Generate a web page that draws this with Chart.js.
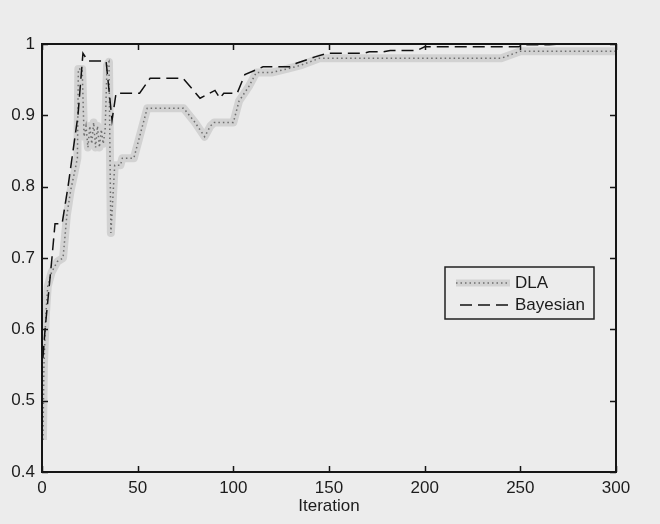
<!DOCTYPE html>
<html>
<head>
<meta charset="utf-8">
<script src="https://cdn.jsdelivr.net/npm/chart.js@4.4.0/dist/chart.umd.min.js"></script>
<style>
  html, body { margin: 0; padding: 0; background: #ececec; }
  canvas { display: block; }
</style>
</head>
<body>
<canvas id="myChart" width="660" height="524"></canvas>
<script>
// DLA curve
var dlaIter = [0.5, 1, 2, 3, 5, 8, 11, 12, 13, 15, 17, 18.5, 19, 21, 22, 23, 24, 25, 26, 27, 28, 29, 30, 31,
               32, 33, 34, 35, 36,
               38, 41, 42, 48, 51, 55, 74, 80, 85, 88, 90, 100, 103, 108, 112, 120, 128, 135, 145, 150,
               240, 245, 250, 300];
var dlaVal  = [0.445, 0.55, 0.62, 0.66, 0.68, 0.695, 0.70, 0.73, 0.76, 0.795, 0.82, 0.84, 0.965, 0.965, 0.87,
               0.885, 0.855, 0.885, 0.86, 0.89, 0.855, 0.885, 0.855, 0.88,
               0.86, 0.88, 0.97, 0.975, 0.735,
               0.83, 0.83, 0.84, 0.84, 0.87, 0.91, 0.91, 0.89, 0.87, 0.885, 0.89, 0.89, 0.92, 0.94, 0.96,
               0.96, 0.965, 0.97, 0.98, 0.98, 0.98, 0.985, 0.99, 0.99];
// Bayesian curve
var bayIter = [0.5, 1.6, 5.2, 6.8, 10.5, 13.6, 18.8, 21.4, 24, 33.5, 36.6, 38.7, 51, 56.5, 73.7, 82.6, 90.4,
               93, 95, 102, 106, 115.5, 129.6, 133, 138.5, 142.7, 149, 168, 171, 178, 182, 196, 200,
               249, 252, 265, 270, 300];
var bayVal  = [0.56, 0.6, 0.7, 0.748, 0.748, 0.8, 0.9, 0.987, 0.976, 0.976, 0.893, 0.931, 0.931, 0.952,
               0.952, 0.924, 0.935, 0.924, 0.931, 0.931, 0.957, 0.968, 0.968, 0.973, 0.978, 0.982, 0.987,
               0.987, 0.989, 0.989, 0.991, 0.991, 0.996, 0.996, 0.999, 0.999, 1.0, 1.0];

var seriesNames = ['DLA', 'Bayesian'];
var xTicks = [0, 50, 100, 150, 200, 250, 300];
var yTicks = [0.4, 0.5, 0.6, 0.7, 0.8, 0.9, 1];
var xTitle = 'Iteration';

var FONT = { family: '"Liberation Sans", Arial, Helvetica, sans-serif', size: 17 };
var INK = '#1c1c1c';

function pts(xs, ys) {
    var out = [];
    for (var i = 0; i < xs.length; i++) out.push({ x: xs[i], y: ys[i] });
    return out;
}

// matlab style box, inward ticks and legend
var matlabBox = {
    id: 'matlabBox',
    afterDatasetsDraw: function (chart) {
        var ctx = chart.ctx;
        var a = chart.chartArea;
        var sx = chart.scales.x, sy = chart.scales.y;
        ctx.save();
        ctx.strokeStyle = '#151515';
        ctx.lineWidth = 2;
        ctx.strokeRect(a.left, a.top, a.right - a.left, a.bottom - a.top);
        ctx.lineWidth = 1.5;
        ctx.beginPath();
        xTicks.forEach(function (v) {
            var px = Math.round(sx.getPixelForValue(v)) + 0.5;
            ctx.moveTo(px, a.bottom); ctx.lineTo(px, a.bottom - 6);
            ctx.moveTo(px, a.top); ctx.lineTo(px, a.top + 6);
        });
        yTicks.forEach(function (v) {
            var py = Math.round(sy.getPixelForValue(v)) + 0.5;
            ctx.moveTo(a.left, py); ctx.lineTo(a.left + 6, py);
            ctx.moveTo(a.right, py); ctx.lineTo(a.right - 6, py);
        });
        ctx.stroke();

        // legend box
        var lx = 445, ly = 267, lw = 149, lh = 52;
        ctx.fillStyle = '#ececec';
        ctx.fillRect(lx, ly, lw, lh);
        ctx.strokeStyle = '#202020';
        ctx.lineWidth = 1.5;
        ctx.strokeRect(lx, ly, lw, lh);
        var rows = [ly + 16, ly + 38];
        // DLA sample
        ctx.lineWidth = 7; ctx.strokeStyle = '#d2d2d2';
        ctx.beginPath(); ctx.moveTo(456, rows[0]); ctx.lineTo(510, rows[0]); ctx.stroke();
        ctx.lineWidth = 1.5; ctx.strokeStyle = '#6e6e6e'; ctx.setLineDash([1.5, 3]);
        ctx.beginPath(); ctx.moveTo(456, rows[0]); ctx.lineTo(510, rows[0]); ctx.stroke();
        // Bayesian sample
        ctx.strokeStyle = '#111'; ctx.lineWidth = 1.5; ctx.setLineDash([12, 6]);
        ctx.beginPath(); ctx.moveTo(460, rows[1]); ctx.lineTo(512, rows[1]); ctx.stroke();
        ctx.setLineDash([]);
        ctx.fillStyle = INK;
        ctx.font = FONT.size + 'px ' + FONT.family;
        ctx.textBaseline = 'middle';
        ctx.textAlign = 'left';
        ctx.fillText(seriesNames[0], 515, rows[0]);
        ctx.fillText(seriesNames[1], 515, rows[1]);
        ctx.restore();
    }
};

var ctx = document.getElementById('myChart').getContext('2d');
var chart = new Chart(ctx, {
    type: 'line',
    data: {
        datasets: [{
            label: seriesNames[1],
            data: pts(bayIter, bayVal),
            borderColor: '#111',
            borderWidth: 1.5,
            borderDash: [12, 6],
            pointRadius: 0,
            fill: false,
            order: 0
        }, {
            label: seriesNames[0],
            data: pts(dlaIter, dlaVal),
            borderColor: '#6e6e6e',
            borderWidth: 1.5,
            borderDash: [1.5, 3],
            pointRadius: 0,
            fill: false,
            order: 1
        }, {
            label: seriesNames[0] + ' halo',
            data: pts(dlaIter, dlaVal),
            borderColor: '#d2d2d2',
            borderWidth: 8,
            borderJoinStyle: 'round',
            pointRadius: 0,
            fill: false,
            order: 2
        }]
    },
    options: {
        responsive: false,
        animation: false,
        layout: { padding: { top: 44, right: 44, left: 0, bottom: 0 } },
        plugins: { legend: { display: false }, tooltip: { enabled: false } },
        scales: {
            x: {
                type: 'linear',
                min: 0, max: 300,
                afterBuildTicks: function (s) { s.ticks = xTicks.map(function (v) { return { value: v }; }); },
                afterFit: function (s) { s.height = 52; },
                grid: { display: false, drawTicks: false },
                border: { display: false },
                ticks: { color: INK, font: FONT, padding: 6, maxRotation: 0 },
                title: { display: true, text: xTitle, color: INK, font: FONT, padding: { top: 0, bottom: 7 } }
            },
            y: {
                type: 'linear',
                min: 0.4, max: 1,
                afterBuildTicks: function (s) { s.ticks = yTicks.map(function (v) { return { value: v }; }); },
                afterFit: function (s) { s.width = 42; },
                grid: { display: false, drawTicks: false },
                border: { display: false },
                ticks: {
                    color: INK, font: FONT, padding: 7,
                    callback: function (v) { return String(+v.toFixed(1)); }
                }
            }
        }
    },
    plugins: [matlabBox]
});
</script>
</body>
</html>
